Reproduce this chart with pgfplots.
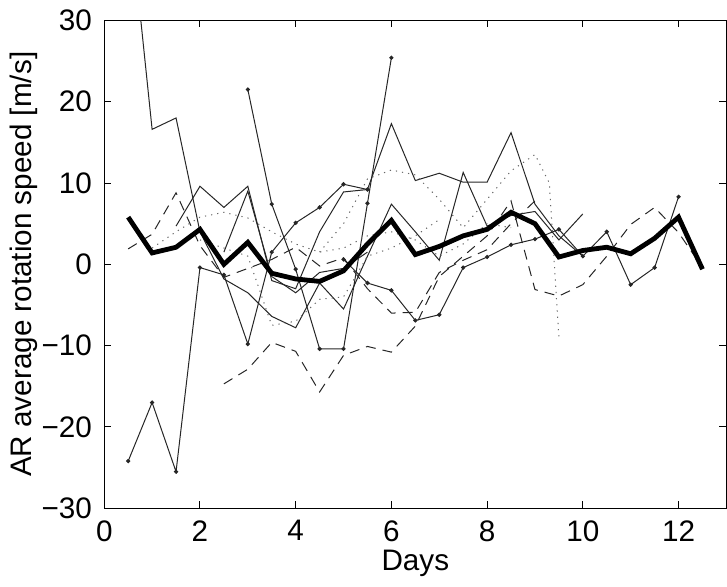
\documentclass[border=0pt]{standalone}
\usepackage{pgfplots}
\pgfplotsset{compat=1.18}
\usepackage{fontspec}
\setmainfont{Liberation Sans}
\begin{document}
\fontsize{14.8}{17}\selectfont
\begin{tikzpicture}
\begin{axis}[
  scale only axis,
  width=310.5pt, height=243.5pt,
  xmin=0, xmax=13, ymin=-30, ymax=30,
  xtick={0,2,4,6,8,10,12},
  ytick={-30,-20,-10,0,10,20,30},
  yticklabels={−30,−20,−10,0,10,20,30},
  /pgf/number format/assume math mode=true,
  tick align=inside,
  major tick length=3.5pt,
  tick style={black, line width=0.5pt},
  axis line style={line width=0.6pt},
  xticklabel style={yshift=-1pt},
  yticklabel style={xshift=-1pt},
  xlabel={Days},
  ylabel={AR average rotation speed [m/s]},
  xlabel style={yshift=6pt},
  ylabel style={yshift=-8pt},
  clip=true,
  every axis plot/.append style={line width=0.5pt, black!85},
]
% solid, no marks
\addplot[no marks] coordinates {(0.5,45) (1,16.6) (1.5,18) (2,4) (2.5,-1.8) (3,-3.5) (3.5,-6.4) (4,-7.8) (4.5,-2.3) (5,-5.5) (5.5,1) (6,7.4) (6.5,4) (7,0.5) (7.5,11.3) (8,4.7) (8.5,6) (9,6.5) (9.5,3) (10,6.2)};
\addplot[no marks] coordinates {(1.5,4.7) (2,9.6) (2.5,7) (3,9.6) (3.5,-2) (4,-3) (4.5,4) (5,8.9) (5.5,9.2) (6,17.3) (6.5,10.3) (7,11.2) (7.5,10.1) (8,10.1) (8.5,16.2) (9,7.4) (9.5,3.5) (10,1.0)};
\addplot[no marks] coordinates {(2.5,1.5) (3,9) (3.5,-1.5) (4,-3.5) (4.5,-1) (5,-0.5) (5.5,1.5)};
% solid with dots
\addplot[mark=*, mark size=0.8pt] coordinates {(0.5,-24.2) (1,-17) (1.5,-25.5) (2,-0.4) (2.5,-1.3) (3,-9.8) (3.5,1.5) (4,5.1) (4.5,7) (5,9.85) (5.5,9.2)};
\addplot[mark=*, mark size=0.8pt] coordinates {(3,21.5) (3.5,7.4) (4,-0.6) (4.5,-10.4) (5,-10.4) (5.5,7.5) (6,25.4)};
\addplot[mark=*, mark size=0.8pt] coordinates {(5,0.6) (5.5,-2.3) (6,-3.2) (6.5,-6.9) (7,-6.2) (7.5,-0.4) (8,0.9) (8.5,2.4) (9,3.1) (9.5,4.3) (10,1) (10.5,4) (11,-2.5) (11.5,-0.4) (12,8.3)};
% dashed
\addplot[no marks, dash pattern=on 5pt off 3.5pt] coordinates {(2.5,-14.7) (3,-12.9) (3.5,-9.6) (4,-10.7) (4.5,-15.7) (5,-11.2) (5.5,-10.1) (6,-10.8) (6.5,-7.6) (7,-1.5) (7.5,1) (8,3.5) (8.5,7.8) (9,-3.1) (9.5,-3.9) (10,-2.5) (10.5,1) (11,4.9) (11.5,7) (12,3.9) (12.5,-0.4)};
\addplot[no marks, dash pattern=on 5pt off 3.5pt] coordinates {(0.5,1.9) (1,3.7) (1.5,8.8) (2,2.3) (2.5,-1.6) (3,-0.5) (3.5,0.6) (4,2.1) (4.5,-0.2) (5,0.8) (5.5,-3) (6,-6) (6.5,-5.9) (7,-1) (7.5,0.5) (8,1.8) (8.5,5) (9,7.8)};
% dotted
\addplot[no marks, black!60, dash pattern=on 0.6pt off 2.5pt] coordinates {(1,2) (1.5,4) (2,5.8) (2.5,6.4) (3,5.7) (3.5,4) (4,2.5) (4.5,1.5) (5,2) (5.5,3.5) (6,4) (6.5,3) (7,1) (7.5,2.5) (8,5) (8.5,4.5)};
\addplot[no marks, black!60, dash pattern=on 0.6pt off 2.5pt] coordinates {(4.5,1.5) (5,5) (5.5,10.5) (6,11.6) (6.5,11) (7,8) (7.5,4.5) (8,8) (8.5,11.5) (9,13.5) (9.3,10) (9.5,-9)};
\addplot[no marks, black!60, dash pattern=on 0.6pt off 2.5pt] coordinates {(2,3) (2.5,2) (3,1) (3.5,-7.5) (4,-7) (4.5,-4.3) (5,-4) (5.5,1) (6,2) (6.5,3.5) (7,5.5)};
% mean
\addplot[no marks, black, line width=2.4pt] coordinates {(0.5,5.8) (1,1.4) (1.5,2.1) (2,4.3) (2.5,0) (3,2.7) (3.5,-1.1) (4,-1.8) (4.5,-2.1) (5,-0.8) (5.5,2.5) (6,5.4) (6.5,1.2) (7,2.2) (7.5,3.5) (8,4.3) (8.5,6.4) (9,5) (9.5,0.9) (10,1.7) (10.5,2.1) (11,1.3) (11.5,3.2) (12,5.8) (12.5,-0.6)};
\end{axis}
\end{tikzpicture}
\end{document}
